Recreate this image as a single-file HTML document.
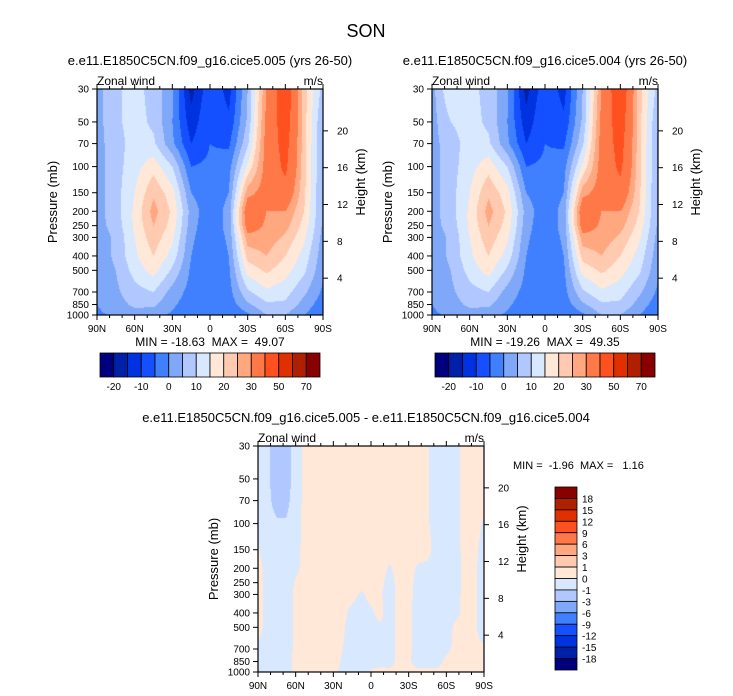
<!DOCTYPE html>
<html><head><meta charset="utf-8"><style>
body{margin:0;background:#fff;width:733px;height:696px;overflow:hidden;position:relative;font-family:"Liberation Sans",sans-serif}
canvas{position:absolute}
svg{position:absolute;left:0;top:0}
</style></head><body>
<canvas id="c1" width="226" height="226" style="left:97px;top:89px"></canvas>
<canvas id="c2" width="226" height="226" style="left:432px;top:89px"></canvas>
<canvas id="c3" width="226" height="226" style="left:258px;top:446px"></canvas>
<svg id="s" width="733" height="696" font-family="Liberation Sans, sans-serif"></svg>
<script>
const lats=[90,75,60,45,30,15,0,-15,-30,-45,-60,-75,-90];
const latsDiff=[90,82.5,75,67.5,60,52.5,45,37.5,30,22.5,15,7.5,0,-7.5,-15,-22.5,-30,-37.5,-45,-52.5,-60,-67.5,-75,-82.5,-90];
const pres=[30,50,70,100,150,200,250,300,400,500,700,850,1000];
const field1=[
[3,9,12,8,1,-17,-6,-12,5,30,48,22,8],
[3,9,12,9,0,-13,-5,-9,6,32,46,22,5],
[3,8,12,11,1,-10,-5,-6,9,33,44,22,4],
[3,8,13,18,10,-5,-4,-2,16,33,42,22,4],
[3,8,15,24,17,0,-4,0,28,33,37,21,4],
[3,8,16,27,19,3,-4,2,36,30,30,20,4],
[3,7,16,25,18,2,-4,2,34,29,27,18,4],
[2,6,15,23,16,1,-4,1,28,28,24,16,3],
[2,6,14,20,13,0,-4,0,22,25,20,13,2],
[2,5,12,17,9,-1,-4,-1,17,21,17,11,1],
[1,4,8,10,3,-2,-4,-2,9,14,12,6,-1],
[0,3,6,6,1,-3,-4,-3,4,9,9,3,-3],
[-1,1,3,2,-1,-4,-3,-5,-1,5,5,0,-5]];
const field2=[
[3,15,12,8,1,-17,-6,-12,5,30,49,22,8],
[3,10,12,9,0,-13,-5,-9,6,32,46,22,5],
[3,8,12,11,1,-10,-5,-6,9,33,44,22,4],
[3,8,13,18,10,-5,-4,-2,16,33,42,22,4],
[3,8,15,24,17,0,-4,0,28,33,37,21,4],
[3,8,16,27,19,3,-4,2,36,30,30,20,4],
[3,7,16,25,18,2,-4,2,34,29,27,18,4],
[2,6,15,23,16,1,-4,1,28,28,24,16,3],
[2,6,14,20,13,0,-4,0,22,25,20,13,2],
[2,5,12,17,9,-1,-4,-1,17,21,17,11,1],
[1,4,8,10,3,-2,-4,-2,9,14,12,6,-1],
[0,3,6,6,1,-3,-4,-3,4,9,9,3,-3],
[-1,1,3,2,-1,-4,-3,-5,-1,5,5,0,-5]];
const fieldDiff=[
[-0.5,-0.8,-1.5,-1.5,-0.5,0.3,0.3,0.3,0.3,0.3,0.3,0.3,0.3,0.3,0.3,0.3,0.3,0.3,0.1,-0.5,-0.5,-0.3,0.3,0.3,0.3],
[-0.5,-0.8,-1.5,-1.5,-0.5,0.3,0.3,0.3,0.3,0.3,0.3,0.3,0.3,0.3,0.3,0.3,0.3,0.3,0.1,-0.5,-0.5,-0.3,0.3,0.3,0.3],
[-0.5,-0.8,-1.3,-1.3,-0.5,0.3,0.3,0.3,0.3,0.3,0.3,0.3,0.3,0.3,0.3,0.3,0.3,0.3,0.1,-0.5,-0.5,-0.3,0.3,0.3,0.2],
[-0.4,-0.7,-0.9,-0.9,-0.4,0.3,0.3,0.3,0.3,0.3,0.3,0.3,0.3,0.3,0.3,0.3,0.3,0.3,0.1,-0.4,-0.5,-0.3,0.3,0.3,-0.1],
[0.1,-0.5,-0.6,-0.5,-0.3,0.3,0.3,0.3,0.3,0.3,0.3,0.3,0.3,0.3,0.3,0.3,0.3,0.3,0.3,-0.4,-0.5,-0.3,0.3,0.2,-0.3],
[0.3,-0.3,-0.5,-0.5,-0.2,0.3,0.3,0.3,0.3,0.3,0.3,0.3,0.3,0.3,-0.1,0.3,0.3,-0.1,-0.2,-0.4,-0.4,-0.3,0.2,0.1,-0.3],
[0.3,-0.3,-0.5,-0.5,0.1,0.3,0.3,0.3,0.3,0.3,0.3,0.2,0.3,0.2,-0.3,0.3,0.3,-0.3,-0.3,-0.4,-0.4,-0.3,0.2,0.1,-0.3],
[0.3,-0.3,-0.5,-0.5,0.2,0.3,0.3,0.3,0.3,0.3,0.2,-0.1,0.2,0.1,-0.4,0.3,0.3,-0.4,-0.4,-0.4,-0.4,-0.2,0.2,0.1,-0.3],
[0.3,-0.3,-0.5,-0.5,0.2,0.3,0.3,0.3,0.3,0.2,-0.2,-0.3,-0.1,0.2,-0.4,0.3,0.2,-0.4,-0.4,-0.4,-0.4,-0.2,0.2,0.1,-0.3],
[0.3,-0.3,-0.5,-0.4,0.2,0.3,0.3,0.3,0.3,0.1,-0.3,-0.3,-0.2,-0.1,-0.4,0.3,0.2,-0.4,-0.4,-0.4,-0.4,0.2,0.2,0.1,-0.3],
[-0.2,-0.3,-0.5,-0.4,0.2,0.3,0.3,0.3,0.3,0.0,-0.3,-0.3,-0.3,-0.3,-0.4,0.3,0.2,-0.4,-0.4,-0.4,-0.2,0.2,0.2,0.1,0.1],
[-0.3,-0.3,-0.5,-0.3,0.2,0.3,0.3,0.3,0.3,-0.1,-0.3,-0.3,-0.3,-0.2,-0.3,0.3,0.1,-0.3,-0.3,-0.3,0.2,0.2,0.2,0.2,0.2],
[-0.3,-0.3,-0.4,-0.3,0.2,0.3,0.3,0.3,0.2,-0.2,-0.3,-0.3,0.1,0.2,0.2,0.2,0.2,0.2,0.2,0.2,0.2,0.2,0.2,0.2,0.2]];
const levels1=[-20,-15,-10,-5,0,5,10,15,20,25,30,40,50,60,70];
const levelLabels1=["-20","-10","0","10","20","30","50","70"];
const levelsD=[-18,-15,-12,-9,-6,-3,-1,0,1,3,6,9,12,15,18];
const levelLabelsD=["18","15","12","9","6","3","1","0","-1","-3","-6","-9","-12","-15","-18"];
const colors=["#00007f","#0020a8","#0032e0","#1450ff","#4080ff","#80a8f8","#b0c8ff","#d8e8ff","#ffe8d8","#ffcab0","#ffa880","#ff7848","#ff5020","#e03000","#b02000","#880000"];
const yTicks=[30,50,70,100,150,200,250,300,400,500,700,850,1000];
const kmTicks=[4,8,12,16,20];
const xTicks=[90,60,30,0,-30,-60,-90];
const W=226,H=226;
function yOf(p){return Math.log(p/30)/Math.log(1000/30)*H;}
function pOfKm(k){return 1000*Math.exp(-k/7);}
function xOf(lat){return (90-lat)/180*W;}
function hex(c){return [1,3,5].map(i=>parseInt(c.substr(i,2),16));}
const rgb=colors.map(hex);
function colorIdx(v,lv){let i=0;while(i<lv.length&&v>=lv[i])i++;return i;}
function draw(id,f,lv,la){
 const cv=document.getElementById(id),ctx=cv.getContext('2d');const im=ctx.createImageData(W,H);
 const lp=pres.map(p=>yOf(p));const n=la.length;
 for(let py=0;py<H;py++){let r=0;while(r<pres.length-2&&lp[r+1]<py+0.5)r++;
  const ty=Math.min(1,Math.max(0,(py+0.5-lp[r])/(lp[r+1]-lp[r])));
  for(let px=0;px<W;px++){const fx=(px+0.5)/W*(n-1);let c=Math.min(n-2,Math.floor(fx));const tx=fx-c;
   const v=(f[r][c]*(1-tx)+f[r][c+1]*tx)*(1-ty)+(f[r+1][c]*(1-tx)+f[r+1][c+1]*tx)*ty;
   const k=rgb[colorIdx(v,lv)];const o=(py*W+px)*4;im.data[o]=k[0];im.data[o+1]=k[1];im.data[o+2]=k[2];im.data[o+3]=255;}}
 ctx.putImageData(im,0,0);}
draw('c1',field1,levels1,lats);draw('c2',field2,levels1,lats);draw('c3',fieldDiff,levelsD,latsDiff);
const S=document.getElementById('s');const NS='http://www.w3.org/2000/svg';
function el(t,a,txt){const e=document.createElementNS(NS,t);for(const k in a)e.setAttribute(k,a[k]);if(txt!=null)e.textContent=txt;S.appendChild(e);return e;}
function lab(d){return d===0?"0":Math.abs(d)+(d>0?"N":"S");}
function panel(x0,y0,name,title,tcx){
 let e;
 e=el('text',{x:tcx,y:y0-24,'font-size':13,'text-anchor':'middle'},title);
 
 
 e=el('text',{x:x0,y:y0-4,'font-size':12},'Zonal wind');
 
 
 e=el('text',{x:x0+W,y:y0-4,'font-size':12,'text-anchor':'end'},'m/s');
 
 
 e=el('rect',{x:x0,y:y0,width:W,height:H,fill:'none',stroke:'#000','stroke-width':1.2});
 
 
 for(let d=90;d>=-90;d-=10){const x=x0+xOf(d);const maj=d%30===0;const L=maj?5:3;
  el('line',{x1:x,x2:x,y1:y0,y2:y0-L,stroke:'#000'});el('line',{x1:x,x2:x,y1:y0+H,y2:y0+H+L,stroke:'#000'});}
 xTicks.forEach(d=>{e=el('text',{x:x0+xOf(d),y:y0+H+17,'font-size':10,'text-anchor':'middle'},lab(d));
  
  });
 yTicks.forEach(p=>{const y=y0+yOf(p);el('line',{x1:x0,x2:x0-5,y1:y,y2:y,stroke:'#000'});
  e=el('text',{x:x0-8,y:y+3.5,'font-size':10,'text-anchor':'end'},String(p));
  
  });
 kmTicks.forEach(k=>{const y=y0+yOf(pOfKm(k));el('line',{x1:x0+W,x2:x0+W+5,y1:y,y2:y,stroke:'#000'});
  e=el('text',{x:x0+W+14,y:y+3.5,'font-size':10},String(k));
  
  });
 e=el('text',{x:0,y:0,'font-size':13,'text-anchor':'middle',transform:`translate(${x0-40},${y0+H/2}) rotate(-90)`},'Pressure (mb)');
 
 
 e=el('text',{x:0,y:0,'font-size':13,'text-anchor':'middle',transform:`translate(${x0+W+42},${y0+H/2-20}) rotate(-90)`},'Height (km)');
 
 
}
let e=el('text',{x:366,y:37,'font-size':18,'text-anchor':'middle'},'SON');


panel(97,89,'panel-005','e.e11.E1850C5CN.f09_g16.cice5.005 (yrs 26-50)',210);
panel(432,89,'panel-004','e.e11.E1850C5CN.f09_g16.cice5.004 (yrs 26-50)',545);
panel(258,446,'difference-panel','e.e11.E1850C5CN.f09_g16.cice5.005 - e.e11.E1850C5CN.f09_g16.cice5.004',366);
e=el('text',{x:210,y:346,'font-size':12,'text-anchor':'middle',style:'white-space:pre'},'MIN = -18.63  MAX =  49.07');


e=el('text',{x:545,y:346,'font-size':12,'text-anchor':'middle',style:'white-space:pre'},'MIN = -19.26  MAX =  49.35');


e=el('text',{x:513,y:469,'font-size':11,'text-anchor':'start',style:'white-space:pre'},'MIN =  -1.96  MAX =   1.16');


function hbar(x0){const bw=220/16;
 colors.forEach((c,i)=>{const r=el('rect',{x:x0+i*bw,y:353,width:bw,height:24,fill:c,stroke:'#000','stroke-width':0.8});
  
  });
 levelLabels1.forEach((t,j)=>{const t2=el('text',{x:x0+(1+2*j)*bw,y:390,'font-size':10,'text-anchor':'middle'},t);
  
  });}
hbar(100);hbar(435);
const bh=183/16;
colors.slice().reverse().forEach((c,i)=>{const r=el('rect',{x:555,y:487+i*bh,width:22,height:bh,fill:c,stroke:'#000','stroke-width':0.8});
 
 });
levelLabelsD.forEach((t,j)=>{const t2=el('text',{x:582,y:487+(j+1)*bh+4,'font-size':10},t);
 
 });
</script>
</body></html>
